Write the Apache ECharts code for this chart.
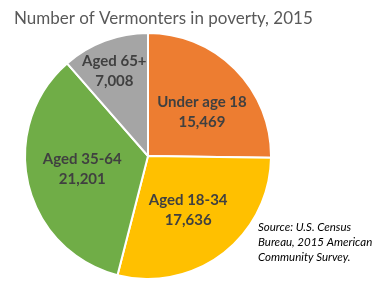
<!DOCTYPE html>
<html><head><meta charset="utf-8">
<script src="https://cdn.jsdelivr.net/npm/echarts@6/dist/echarts.min.js"></script>
<style>html,body{margin:0;padding:0;background:#fff}#c{width:378px;height:283px}</style>
</head><body><div id="c"></div>
<script>
var categories = ['Under age 18', 'Aged 18-34', 'Aged 35-64', 'Aged 65+'];
var values = [15469, 17636, 21201, 7008];
var colors = ['#ED7D31', '#FFC000', '#70AD47', '#A5A5A5'];
var labelOffsets = [[8, 1], [1, 3], [-3, -2], [-11, -24]];
var chart = echarts.init(document.getElementById('c'));
chart.setOption({
  animation: false,
  title: {
    text: 'Number of Vermonters in poverty, 2015',
    left: 9, top: 5,
    textStyle: {fontFamily: 'Lato', fontWeight: 'normal', fontSize: 17, color: '#595959'}
  },
  graphic: [{
    type: 'text', left: 258, top: 220,
    style: {text: 'Source: U.S. Census\nBureau, 2015 American\nCommunity Survey.', font: 'italic 11.5px Lato', fill: '#000', lineHeight: 15}
  }],
  series: [{
    type: 'pie',
    center: [148, 156], radius: 123,
    startAngle: 90, clockwise: true,
    itemStyle: {borderColor: '#fff', borderWidth: 2},
    label: {
      position: 'inside',
      formatter: function (p) { return p.name + '\n' + p.value.toLocaleString('en-US'); },
      fontFamily: 'Lato', fontWeight: 'bold', fontSize: 15, color: '#404040', lineHeight: 20
    },
    labelLine: {show: false},
    data: categories.map(function (n, i) {
      return {name: n, value: values[i], itemStyle: {color: colors[i]}, label: {offset: labelOffsets[i]}};
    })
  }]
});
</script></body></html>
